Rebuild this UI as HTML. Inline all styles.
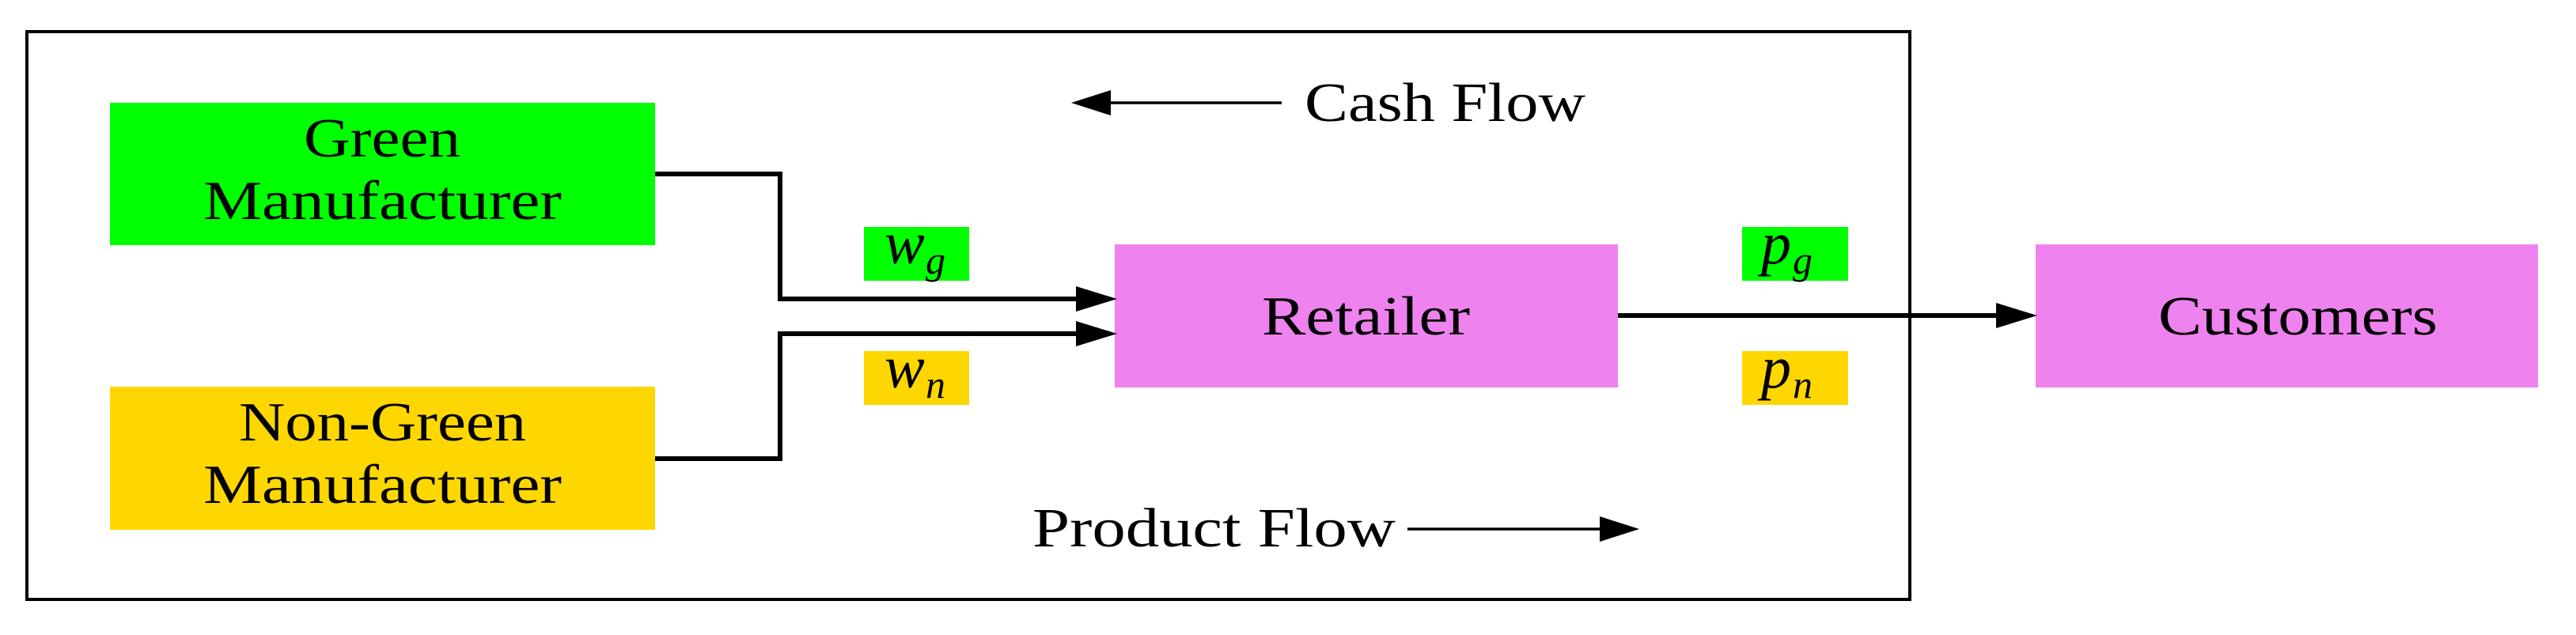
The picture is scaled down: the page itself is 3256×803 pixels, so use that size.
<!DOCTYPE html>
<html><head><meta charset="utf-8"><style>html,body{margin:0;padding:0;background:#fff}svg{display:block}</style></head>
<body>
<svg width="3256" height="803" viewBox="0 0 3256 803" xmlns="http://www.w3.org/2000/svg" font-family="Liberation Serif, serif" font-size="70">
<rect x="0" y="0" width="3256" height="803" fill="#fff"/>
<g transform="translate(0,-2)">
<rect x="34" y="42" width="2380" height="718" fill="none" stroke="#000" stroke-width="4"/>
<rect x="139" y="132" width="689" height="180" fill="#00ff00"/>
<rect x="139" y="491" width="689" height="181" fill="#ffd700"/>
<rect x="1409" y="311" width="636" height="181" fill="#ee82ee"/>
<rect x="2573" y="311" width="635" height="181" fill="#ee82ee"/>
<rect x="1092" y="289" width="133" height="68" fill="#00ff00"/>
<rect x="1092" y="446" width="133" height="68" fill="#ffd700"/>
<rect x="2202" y="289" width="134" height="68" fill="#00ff00"/>
<rect x="2202" y="446" width="134" height="68" fill="#ffd700"/>
<g fill="none" stroke="#000" stroke-width="6">
<polyline points="828,222 986,222 986,380 1370,380"/>
<polyline points="828,582 986,582 986,424 1370,424"/>
<line x1="2045" y1="401" x2="2530" y2="401"/>
</g>
<g stroke="#000" stroke-width="3.5">
<line x1="1620" y1="132" x2="1395" y2="132"/>
<line x1="1779" y1="671" x2="2030" y2="671"/>
</g>
<g fill="#000">
<polygon points="1412,380 1360,364 1360,396"/>
<polygon points="1412,424 1360,408 1360,440"/>
<polygon points="2575,401 2523,385 2523,417"/>
<polygon points="1354,132 1404,116 1404,148"/>
<polygon points="2072,671 2022,655 2022,687"/>
</g>
<g fill="#000">
<text x="384" y="200" textLength="198" lengthAdjust="spacingAndGlyphs">Green</text>
<text x="257" y="279" textLength="453" lengthAdjust="spacingAndGlyphs">Manufacturer</text>
<text x="302" y="559" textLength="363" lengthAdjust="spacingAndGlyphs">Non-Green</text>
<text x="257" y="638" textLength="453" lengthAdjust="spacingAndGlyphs">Manufacturer</text>
<text x="1595" y="425" textLength="263" lengthAdjust="spacingAndGlyphs">Retailer</text>
<text x="2728" y="425" textLength="353" lengthAdjust="spacingAndGlyphs">Customers</text>
<text x="1649" y="155" textLength="355" lengthAdjust="spacingAndGlyphs">Cash Flow</text>
<text x="1305" y="693" textLength="459" lengthAdjust="spacingAndGlyphs">Product Flow</text>
<text x="1118" y="335" font-size="76" font-style="italic">w</text><text x="1170" y="348" font-size="50" font-style="italic">g</text>
<text x="1118" y="492" font-size="76" font-style="italic">w</text><text x="1170" y="505" font-size="50" font-style="italic">n</text>
<text x="2226" y="335" font-size="76" font-style="italic">p</text><text x="2266" y="348" font-size="50" font-style="italic">g</text>
<text x="2226" y="492" font-size="76" font-style="italic">p</text><text x="2266" y="505" font-size="50" font-style="italic">n</text>
</g>
</g>
</svg>
</body></html>
